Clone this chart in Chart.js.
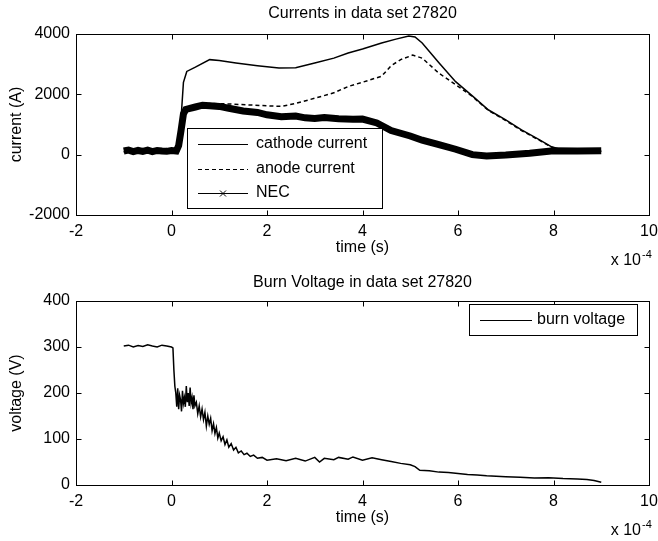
<!DOCTYPE html>
<html>
<head>
<meta charset="utf-8">
<script src="https://cdn.jsdelivr.net/npm/chart.js@4.4.1/dist/chart.umd.min.js"></script>
<style>
  body { margin: 0; background: #fff; }
  canvas { display: block; }
</style>
</head>
<body>
<canvas id="currents" width="658" height="270"></canvas>
<canvas id="voltage" width="658" height="271"></canvas>
<script>
// time in units of 1e-4 s
var timeTicks = [-2, 0, 2, 4, 6, 8, 10];
var currentTicks = [-2000, 0, 2000, 4000];
var voltageTicks = [0, 100, 200, 300, 400];

var cathodeT = [
  -1.0, -0.5, 0.0, 0.15, 0.2, 0.25, 0.32, 0.5, 0.8, 1.0,
  1.35, 1.8, 2.25, 2.6, 3.0, 3.4, 3.7, 4.0, 4.4, 4.7,
  4.97, 5.1, 5.25, 5.6, 5.95, 6.3, 6.64, 7.0, 7.33, 7.7,
  7.96, 8.2, 8.6, 9.0];
var cathodeA = [
  100, 110, 100, 120, 1200, 2400, 2760, 2900, 3150, 3120,
  3040, 2950, 2870, 2880, 3040, 3200, 3370, 3500, 3700, 3830,
  3930, 3900, 3700, 3050, 2420, 1950, 1480, 1150, 820, 500,
  260, 150, 120, 110];

var anodeT = [
  -1.0, 0.0, 0.15, 0.2, 0.3, 0.5, 0.8, 1.2, 1.6, 2.0,
  2.3, 2.6, 3.0, 3.4, 3.7, 4.0, 4.4, 4.6, 4.8, 5.05,
  5.25, 5.6, 5.95, 6.3, 6.64, 7.0, 7.33, 7.7, 7.96, 8.2,
  9.0];
var anodeA = [
  100, 100, 120, 1100, 1500, 1600, 1700, 1680, 1650, 1620,
  1600, 1700, 1870, 2050, 2260, 2400, 2600, 2950, 3150, 3300,
  3200, 2700, 2320, 1930, 1460, 1130, 800, 480, 250, 140,
  110];

var necT = [
  -1.0, -0.9, -0.8, -0.7, -0.6, -0.5, -0.4, -0.3, -0.2, -0.1,
  0.0, 0.1, 0.15, 0.2, 0.25, 0.3, 0.5, 0.65, 0.8, 1.0,
  1.2, 1.5, 1.8, 2.0, 2.3, 2.6, 2.8, 3.0, 3.2, 3.5,
  3.8, 4.0, 4.3, 4.6, 5.0, 5.25, 5.6, 5.95, 6.3, 6.6,
  7.0, 7.5, 8.0, 8.5, 9.0];
var necA = [
  120, 150, 100, 140, 110, 150, 100, 140, 120, 110,
  140, 120, 300, 800, 1350, 1500, 1580, 1640, 1620, 1600,
  1540, 1450, 1400, 1320, 1260, 1280, 1220, 1200, 1230, 1190,
  1170, 1180, 1050, 800, 620, 480, 330, 180, 0, -40,
  -10, 50, 130, 120, 130];

var voltT = [
  -1.0, -0.9, -0.8, -0.7, -0.6, -0.5, -0.4, -0.3, -0.2, -0.1,
  0.0, 0.03, 0.05, 0.07, 0.09, 0.11, 0.13, 0.15, 0.17, 0.19,
  0.21, 0.23, 0.25, 0.27, 0.29, 0.31, 0.33, 0.35, 0.37, 0.39,
  0.41, 0.43, 0.45, 0.47, 0.49, 0.52, 0.55, 0.58, 0.61, 0.64,
  0.67, 0.70, 0.73, 0.76, 0.79, 0.82, 0.85, 0.88, 0.91, 0.94,
  0.97, 1.00, 1.04, 1.08, 1.12, 1.16, 1.20, 1.25, 1.30, 1.35,
  1.40, 1.46, 1.52, 1.58, 1.65, 1.72, 1.80, 1.90, 2.0, 2.2,
  2.4, 2.6, 2.8, 3.0, 3.1, 3.2, 3.4, 3.5, 3.7, 3.8,
  4.0, 4.2, 4.4, 4.6, 4.8, 5.0, 5.1, 5.2, 5.4, 5.6,
  5.8, 6.0, 6.2, 6.4, 6.6, 6.8, 7.0, 7.3, 7.6, 7.9,
  8.2, 8.5, 8.7, 8.85, 9.0];
var voltV = [
  302, 304, 300, 303, 301, 305, 302, 300, 304, 302,
  300, 298, 250, 215, 200, 170, 210, 165, 195, 185,
  160, 205, 178, 190, 170, 215, 180, 200, 172, 212,
  178, 190, 165, 195, 172, 180, 155, 172, 148, 165,
  142, 158, 128, 150, 132, 145, 118, 133, 112, 125,
  102, 113, 96, 105, 88, 98, 82, 90, 76, 82,
  70, 74, 66, 69, 62, 65, 58, 60, 54, 57,
  53, 58, 52, 60, 50, 58, 55, 60, 56, 61,
  54, 59, 55, 51, 47, 44, 40, 32, 31, 28,
  27, 25, 23, 22, 20, 19, 18, 17, 15, 16,
  14, 13, 12, 10, 6];

function points(ts, vs) {
  var out = [];
  for (var i = 0; i < ts.length; i++) out.push({x: ts[i], y: vs[i]});
  return out;
}

Chart.defaults.font.family = "'Liberation Sans', Arial, sans-serif";
Chart.defaults.font.size = 16;
Chart.defaults.color = '#000';

// matlab style box, inward ticks, legend and the x 10^-4 note
var matlabAxes = {
  id: 'matlabAxes',
  afterDatasetsDraw: function(chart, args, opts) {
    var ctx = chart.ctx, a = chart.chartArea;
    var xs = chart.scales.x, ys = chart.scales.y;
    var L = Math.round(a.left) + 0.5, R = Math.round(a.right) + 0.5;
    var T = Math.round(a.top) + 0.5, B = Math.round(a.bottom) + 0.5;
    ctx.save();
    ctx.strokeStyle = '#000';
    ctx.lineWidth = 1;
    ctx.setLineDash([]);
    ctx.strokeRect(L, T, R - L, B - T);
    ctx.beginPath();
    xs.ticks.forEach(function(t) {
      var px = Math.round(xs.getPixelForValue(t.value)) + 0.5;
      ctx.moveTo(px, B); ctx.lineTo(px, B - 5);
      ctx.moveTo(px, T); ctx.lineTo(px, T + 5);
    });
    ys.ticks.forEach(function(t) {
      var py = Math.round(ys.getPixelForValue(t.value)) + 0.5;
      ctx.moveTo(L, py); ctx.lineTo(L + 5, py);
      ctx.moveTo(R, py); ctx.lineTo(R - 5, py);
    });
    ctx.stroke();

    // legend
    var lg = opts.legend;
    ctx.fillStyle = '#fff';
    ctx.fillRect(lg.box[0], lg.box[1], lg.box[2], lg.box[3]);
    ctx.strokeRect(lg.box[0] + 0.5, lg.box[1] + 0.5, lg.box[2], lg.box[3]);
    ctx.font = "16px 'Liberation Sans', Arial, sans-serif";
    ctx.textBaseline = 'middle';
    ctx.textAlign = 'left';
    chart.data.datasets.forEach(function(ds, i) {
      var y = lg.rows[i] + 0.5;
      ctx.beginPath();
      ctx.setLineDash(ds.borderDash || []);
      ctx.lineWidth = 1;
      ctx.moveTo(lg.line[0], y); ctx.lineTo(lg.line[1], y);
      ctx.stroke();
      ctx.setLineDash([]);
      if (ds.legendMarker) {
        var mx = (lg.line[0] + lg.line[1]) / 2;
        ctx.beginPath();
        ctx.moveTo(mx - 3, y - 3); ctx.lineTo(mx + 3, y + 3);
        ctx.moveTo(mx - 3, y + 3); ctx.lineTo(mx + 3, y - 3);
        ctx.stroke();
      }
      ctx.fillStyle = '#000';
      ctx.fillText(ds.label, lg.textX, lg.rows[i]);
    });

    // exponent note
    var ex = opts.exponent;
    ctx.textAlign = 'right';
    ctx.fillText('x 10', ex.x, ex.y);
    ctx.textAlign = 'left';
    ctx.font = "11px 'Liberation Sans', Arial, sans-serif";
    ctx.fillText('-4', ex.x + 1, ex.y - 6);
    ctx.restore();
  }
};

function makeOptions(cfg) {
  return {
    responsive: false,
    animation: false,
    devicePixelRatio: 1,
    layout: {padding: 0},
    elements: {point: {radius: 0}, line: {tension: 0}},
    plugins: {
      legend: {display: false},
      tooltip: {enabled: false},
      title: {
        display: true, text: cfg.title, fullSize: false,
        font: {size: 16, weight: 'normal'}, color: '#000',
        padding: cfg.titlePad
      },
      matlabAxes: {legend: cfg.legend, exponent: cfg.exponent}
    },
    scales: {
      x: {
        type: 'linear', min: -2, max: 10,
        afterBuildTicks: function(s) { s.ticks = timeTicks.map(function(v) { return {value: v}; }); },
        afterFit: function(s) { s.height = cfg.xHeight; s.paddingRight = 9; s.paddingLeft = 0; },
        grid: {display: false, drawTicks: false},
        border: {display: false},
        ticks: {padding: 7, maxRotation: 0, autoSkip: false, callback: function(v) { return String(v); }},
        title: {display: true, text: 'time (s)', padding: {top: 0, bottom: cfg.xTitlePad}}
      },
      y: {
        min: cfg.yMin, max: cfg.yMax,
        afterBuildTicks: function(s) { s.ticks = cfg.yTicks.map(function(v) { return {value: v}; }); },
        afterFit: function(s) { s.width = 76; },
        grid: {display: false, drawTicks: false},
        border: {display: false},
        ticks: {padding: 6, callback: function(v) { return String(v); }},
        title: {display: true, text: cfg.yTitle, padding: {top: 7, bottom: 0}}
      }
    }
  };
}

new Chart(document.getElementById('currents'), {
  type: 'line',
  data: {
    datasets: [
      {label: 'cathode current', data: points(cathodeT, cathodeA), borderColor: '#000', borderWidth: 1.5, order: 0},
      {label: 'anode current', data: points(anodeT, anodeA), borderColor: '#000', borderWidth: 1.5, borderDash: [4, 3], order: 2},
      {label: 'NEC', data: points(necT, necA), borderColor: '#000', borderWidth: 7, legendMarker: true, order: 1}
    ]
  },
  options: makeOptions({
    title: 'Currents in data set 27820',
    titlePad: {top: 4, bottom: 10.8},
    xHeight: 55, xTitlePad: 13,
    yMin: -2000, yMax: 4000, yTicks: currentTicks, yTitle: 'current (A)',
    legend: {box: [187, 128, 195, 80], rows: [144, 169, 193], line: [198, 248], textX: 256},
    exponent: {x: 641, y: 261}
  }),
  plugins: [matlabAxes]
});

new Chart(document.getElementById('voltage'), {
  type: 'line',
  data: {
    datasets: [
      {label: 'burn voltage', data: points(voltT, voltV), borderColor: '#000', borderWidth: 1.5}
    ]
  },
  options: makeOptions({
    title: 'Burn Voltage in data set 27820',
    titlePad: {top: 3, bottom: 8.8},
    xHeight: 56, xTitlePad: 14,
    yMin: 0, yMax: 400, yTicks: voltageTicks, yTitle: 'voltage (V)',
    legend: {box: [469, 34, 168, 31], rows: [50], line: [480, 532], textX: 537},
    exponent: {x: 641, y: 261}
  }),
  plugins: [matlabAxes]
});
</script>
</body>
</html>
